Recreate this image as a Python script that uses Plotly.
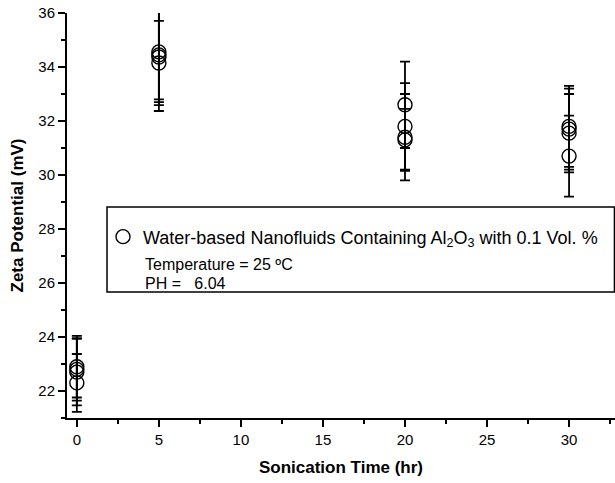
import plotly.graph_objects as go

# Sonication time (hr) and measured zeta potential (mV) with error estimates
time_hr = [0, 0, 0, 0,
           5, 5, 5, 5,
           20, 20, 20, 20,
           30, 30, 30, 30]
zeta_mv = [22.9, 22.8, 22.7, 22.3,
           34.56, 34.45, 34.37, 34.15,
           32.6, 31.8, 31.4, 31.3,
           31.8, 31.7, 31.55, 30.7]
zeta_err = [1.14, 1.16, 1.23, 1.07,
            1.76, 1.75, 2.0, 1.56,
            1.6, 1.6, 1.6, 1.15,
            1.5, 1.5, 1.45, 1.5]

series_name = "Water-based Nanofluids Containing Al<sub>2</sub>O<sub>3</sub> with 0.1 Vol. %"
note_lines = ["Temperature = 25 \u00baC", "PH =\u00a0\u00a0 6.04"]

FONT = "Liberation Sans, Arial, sans-serif"

fig = go.Figure()
fig.add_trace(go.Scatter(
    x=time_hr, y=zeta_mv, mode="markers", name=series_name,
    marker=dict(symbol="circle-open", size=14, color="black", line=dict(width=1.4, color="black")),
    error_y=dict(type="data", array=zeta_err, visible=True, color="black", thickness=1.8, width=5),
    showlegend=True,
))

# Legend frame
fig.add_shape(type="rect", xref="paper", yref="paper",
              x0=0.073, x1=0.999, y0=0.311, y1=0.521,
              line=dict(color="black", width=1.5), fillcolor="white", layer="above")

for i, line in enumerate(note_lines):
    fig.add_annotation(text=line, xref="paper", yref="paper",
                       x=0.1387, y=0.378 - i * 0.045, xanchor="left", yanchor="middle",
                       showarrow=False, font=dict(size=16, color="black", family=FONT))

axis_common = dict(
    showline=True, linecolor="black", linewidth=2, mirror=False,
    ticks="outside", ticklen=7, tickwidth=2, tickcolor="black",
    showgrid=False, zeroline=False,
    tickfont=dict(size=15, color="black", family=FONT),
)

fig.update_xaxes(range=[-0.6, 32.8], tick0=0, dtick=5,
                 minor=dict(ticks="outside", ticklen=4, tickwidth=2, tickcolor="black", dtick=2.5, tick0=0),
                 title=dict(text="<b>Sonication Time (hr)</b>", font=dict(size=17, color="black", family=FONT), standoff=14),
                 **axis_common)
fig.update_yaxes(range=[21, 36], tick0=22, dtick=2,
                 minor=dict(ticks="outside", ticklen=4, tickwidth=2, tickcolor="black", dtick=1, tick0=22),
                 title=dict(text="<b>Zeta Potential (mV)</b>", font=dict(size=17, color="black", family=FONT), standoff=10),
                 **axis_common)

fig.update_layout(
    width=615, height=483,
    margin=dict(l=67, r=0, t=13, b=65),
    plot_bgcolor="white", paper_bgcolor="white",
    font=dict(family=FONT, color="black"),
    legend=dict(x=0.0657, y=0.447, xanchor="left", yanchor="middle",
                bgcolor="rgba(0,0,0,0)", borderwidth=0,
                font=dict(size=18, color="black", family=FONT)),
)

fig.write_html("out.html")
